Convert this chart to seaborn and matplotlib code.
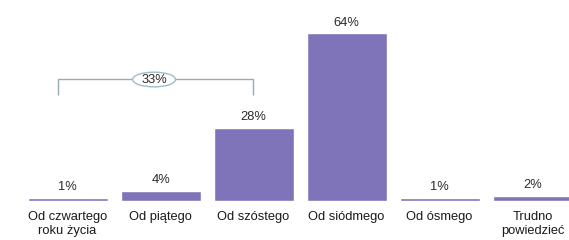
import matplotlib
matplotlib.use("Agg")
import matplotlib.pyplot as plt
from matplotlib.patches import Ellipse
import seaborn as sns
import pandas as pd

categories = ["Od czwartego\nroku życia", "Od piątego", "Od szóstego",
              "Od siódmego", "Od ósmego", "Trudno\npowiedzieć"]
values = [1, 4, 28, 64, 1, 2]
value_labels = ["1%", "4%", "28%", "64%", "1%", "2%"]
bracket_label = "33%"

sns.set_theme(style="white")
plt.rcParams['font.family'] = ['Liberation Sans', 'DejaVu Sans']

df = pd.DataFrame({"cat": categories, "val": values})

fig = plt.figure(figsize=(5.69, 2.40), dpi=100)
ax = fig.add_axes([0, 39/240, 1, 201/240])
sns.barplot(data=df, x="cat", y="val", color="#7f74b9", saturation=1,
            width=0.86, ax=ax)
ax.set_xlim(-0.726, 5.39)
ax.set_ylim(0, 76.6)
for s in ax.spines.values():
    s.set_visible(False)
ax.set_xlabel("")
ax.set_ylabel("")
ax.set_yticks([])
ax.tick_params(axis="x", length=0, pad=7, labelsize=9.3, labelcolor="#1a1a1a")
for t in ax.get_xticklabels():
    t.set_linespacing(1.25)

for p, lab in zip(ax.patches, value_labels):
    h = p.get_height()
    if h < 1.5:
        p.set_height(1.2)
        h = 1.2
    elif h < 3:
        p.set_height(2.0)
        h = 2.0
    ax.text(p.get_x() + p.get_width() / 2, h + 1.7, lab, ha="center", va="bottom",
            fontsize=9.3, color="#2a2a2a")

# bracket for first three
lc = "#9aaab4"
ax.plot([-0.1, -0.1, 1.99, 1.99], [40.4, 46.5, 46.5, 40.4], color=lc, lw=1.0,
        solid_capstyle="butt")
ell = Ellipse((0.93, 46.3), 0.46, 5.6, facecolor="white", edgecolor="#9fbcc8", lw=1.0, zorder=3)
ax.add_patch(ell)
ax.text(0.93, 46.0, bracket_label, ha="center", va="center", fontsize=9.3,
        color="#2a2a2a", zorder=4)

fig.savefig("out.png", dpi=100)
